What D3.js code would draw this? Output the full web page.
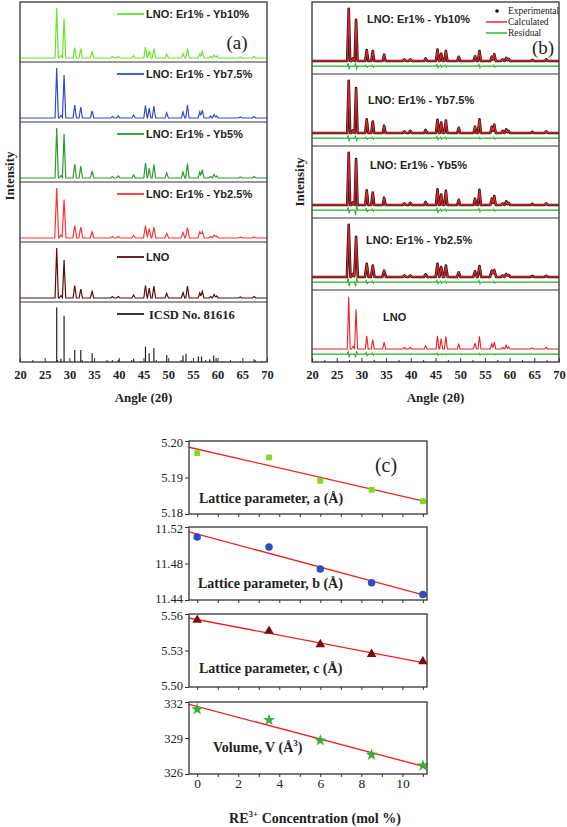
<!DOCTYPE html>
<html><head><meta charset="utf-8">
<script src="https://cdn.jsdelivr.net/npm/d3@7"></script>
<style>body{margin:0;background:#fff}svg{display:block}</style>
</head><body>
<script>
// ---------- DATA ----------
const angleTicks = [20, 25, 30, 35, 40, 45, 50, 55, 60, 65, 70];
const peakPos   = [27.43, 28.3, 28.92, 31.08, 32.3, 34.6, 38.7, 39.9, 43.0, 45.4, 46.15, 47.1, 49.7, 53.0, 53.9, 56.4, 56.9, 58.6, 59.3, 59.8, 64.6, 67.4];
const intYb10   = [100, 5, 79, 21, 19, 12, 3, 3, 5, 22, 14, 19, 8, 9, 19, 8, 13, 3, 6, 4, 2, 3];
const intYb75   = [100, 5, 86, 26, 22, 14, 3, 4, 6, 25, 20, 24, 10, 12, 26, 12, 16, 4, 7, 4, 2, 3];
const intYb5    = [100, 5, 88, 28, 24, 14, 3, 4, 6, 30, 20, 27, 10, 12, 29, 12, 17, 3, 7, 4, 2, 3];
const intYb25   = [100, 6, 77, 25, 22, 12, 3, 3, 5, 25, 19, 22, 9, 11, 21, 12, 13, 3, 6, 4, 2, 2];
const intLNO    = [100, 5, 76, 25, 18, 13, 3, 3, 6, 25, 20, 24, 9, 11, 24, 10, 13, 3, 7, 4, 2, 3];
const stickPos  = [27.43, 28.3, 28.92, 31.08, 32.3, 34.6, 37.8, 38.7, 39.9, 43.0, 44.5, 45.4, 46.15, 47.1, 49.7, 53.0, 53.6, 54.7, 56.1, 56.75, 58.4, 59.2, 59.7, 60.9, 64.6, 67.4, 69.0];
const stickInt  = [100, 6, 85, 22, 22, 16, 2, 3, 4, 6, 2, 28, 16, 25, 13, 12, 15, 2, 10, 10, 5, 12, 7, 2, 2, 5, 2];
const residPos  = [27.43, 28.92, 31.08, 32.3, 45.4, 46.15, 47.1, 53.9, 56.9];
const resYb10   = [6, 5, 2, 2, 3, 2, 2, 3, 2];
const resYb75   = [5, 4, 2, 2, 3, 2, 2, 2, 2];
const resYb5    = [5, -9, 3, 2, 4, 2, 2, 3, 2];
const resYb25   = [8, -8, 3, 2, 3, 2, 2, 3, 2];
const resLNO    = [5, -6, 3, 2, 2, 1, 1, 2, 1];
const sampleNames = ["LNO: Er1% - Yb10%", "LNO: Er1% - Yb7.5%", "LNO: Er1% - Yb5%", "LNO: Er1% - Yb2.5%", "LNO"];

const conc   = [0, 3.5, 6, 8.5, 11];
const latA   = [5.1967, 5.1955, 5.1891, 5.1866, 5.1835];
const latB   = [11.509, 11.498, 11.474, 11.459, 11.446];
const latC   = [5.555, 5.546, 5.535, 5.527, 5.521];
const volV   = [331.4, 330.5, 328.8, 327.6, 326.7];
const concTicks = [0, 2, 4, 6, 8, 10];
const ticksA = [5.18, 5.19, 5.20];
const ticksB = [11.44, 11.48, 11.52];
const ticksC = [5.50, 5.53, 5.56];
const ticksV = [326, 329, 332];

// ---------- SETUP ----------
const W = 567, H = 827;
const svg = d3.select("body").append("svg").attr("width", W).attr("height", H);
const SERIF = "'Liberation Serif','Times New Roman',serif";
const SANS = "'Liberation Sans',Arial,sans-serif";
const FRAME = "#333";
const defs = svg.append("defs");

function profile(pos, ints, hw) {
  const xs = new Set([20, 70]);
  pos.forEach(p => { xs.add(p - hw); xs.add(p); xs.add(p + hw); });
  return [...xs].filter(x => x >= 20 && x <= 70).sort((a, b) => a - b)
    .map(x => [x, d3.sum(pos, (p, i) => Math.max(0, ints[i] * (1 - Math.abs(x - p) / hw)))]);
}
function residual(pos, amps) {
  const pts = [[20, 0], [70, 0]];
  pos.forEach((p, i) => { pts.push([p - 0.3, 0], [p - 0.1, amps[i]], [p + 0.1, -amps[i]], [p + 0.3, 0]); });
  return pts.sort((a, b) => a[0] - b[0]);
}

function angleAxis(g, x, yBottom) {
  const minor = d3.range(22.5, 70, 5);
  g.append("g").attr("transform", `translate(0,${yBottom})`)
    .call(d3.axisBottom(x).tickValues(minor).tickSize(-2).tickFormat(""))
    .call(s => s.select(".domain").remove()).selectAll("line").attr("stroke", FRAME);
  const ax = g.append("g").attr("transform", `translate(0,${yBottom})`)
    .call(d3.axisBottom(x).tickValues(angleTicks).tickSize(-4).tickPadding(8).tickFormat(d3.format("d")));
  ax.select(".domain").remove();
  ax.selectAll("line").attr("stroke", FRAME);
  ax.selectAll("text").attr("font-family", SERIF).attr("font-weight", "bold").attr("font-size", 12.5).attr("fill", "#222");
}

// ---------- PANEL (a) ----------
const A = { x0: 20, x1: 267, y0: 2, rowH: 60 };
const xA = d3.scaleLinear().domain([20, 70]).range([A.x0, A.x1]);
const aRows = [
  { name: sampleNames[0], ints: intYb10, color: "#66e62a", hw: 0.34, ly: 12 },
  { name: sampleNames[1], ints: intYb75, color: "#2f4fc4", hw: 0.34, ly: 12 },
  { name: sampleNames[2], ints: intYb5,  color: "#2a9e2a", hw: 0.34, ly: 12 },
  { name: sampleNames[3], ints: intYb25, color: "#ff3333", hw: 0.4, ly: 12 },
  { name: sampleNames[4], ints: intLNO,  color: "#5c0b0b", hw: 0.34, ly: 15 }
];
const gA = svg.append("g");
defs.append("clipPath").attr("id", "clipA").append("rect")
  .attr("x", A.x0).attr("y", A.y0).attr("width", A.x1 - A.x0).attr("height", A.rowH * 6);
aRows.forEach((r, i) => {
  const top = A.y0 + A.rowH * i;
  const y = d3.scaleLinear().domain([-8, 112]).range([top + A.rowH, top]);
  gA.append("path").datum(profile(peakPos, r.ints, r.hw))
    .attr("clip-path", "url(#clipA)")
    .attr("d", d3.line().x(d => xA(d[0])).y(d => y(d[1])))
    .attr("fill", "none").attr("stroke", r.color).attr("stroke-width", 1.2);
  gA.append("line").attr("x1", 117).attr("x2", 144).attr("y1", top + r.ly).attr("y2", top + r.ly)
    .attr("stroke", r.color).attr("stroke-width", 1.8);
  gA.append("text").attr("x", 146).attr("y", top + r.ly).attr("dy", "0.36em")
    .attr("font-family", SANS).attr("font-weight", "bold").attr("font-size", 11).attr("fill", "#222").text(r.name);
});
// ICSD sticks
{
  const top = A.y0 + A.rowH * 5;
  const y = d3.scaleLinear().domain([0, 110]).range([top + A.rowH, top]);
  gA.append("g").selectAll("line").data(stickPos).join("line")
    .attr("x1", d => xA(d)).attr("x2", d => xA(d))
    .attr("y1", y(0)).attr("y2", (d, i) => y(stickInt[i]))
    .attr("stroke", "#222").attr("stroke-width", 1.2);
  gA.append("line").attr("x1", 117).attr("x2", 144).attr("y1", top + 12).attr("y2", top + 12)
    .attr("stroke", "#222").attr("stroke-width", 1.8);
  gA.append("text").attr("x", 149).attr("y", top + 12).attr("dy", "0.36em")
    .attr("font-family", SERIF).attr("font-weight", "bold").attr("font-size", 12.5).attr("fill", "#222").text("ICSD No. 81616");
}
for (let i = 1; i < 6; i++) {
  gA.append("line").attr("x1", A.x0).attr("x2", A.x1).attr("y1", A.y0 + A.rowH * i).attr("y2", A.y0 + A.rowH * i)
    .attr("stroke", FRAME).attr("stroke-width", 1.2);
}
gA.append("rect").attr("x", A.x0).attr("y", A.y0).attr("width", A.x1 - A.x0).attr("height", A.rowH * 6)
  .attr("fill", "none").attr("stroke", FRAME).attr("stroke-width", 1.3);
angleAxis(gA, xA, A.y0 + A.rowH * 6);
gA.append("text").attr("x", 237).attr("y", 42).attr("text-anchor", "middle").attr("dy", "0.35em")
  .attr("font-family", SERIF).attr("font-size", 19).attr("fill", "#222").text("(a)");
gA.append("text").attr("x", (A.x0 + A.x1) / 2).attr("y", 397).attr("text-anchor", "middle").attr("dy", "0.35em")
  .attr("font-family", SERIF).attr("font-weight", "bold").attr("font-size", 13).attr("fill", "#222").text("Angle (2θ)");
gA.append("text").attr("transform", "translate(9,176) rotate(-90)").attr("text-anchor", "middle").attr("dy", "0.35em")
  .attr("font-family", SERIF).attr("font-weight", "bold").attr("font-size", 13).attr("fill", "#222").text("Intensity");

// ---------- PANEL (b) ----------
const B = { x0: 312, x1: 559, y0: 2, rowH: 72 };
const xB = d3.scaleLinear().domain([20, 70]).range([B.x0, B.x1]);
const bRows = [
  { name: sampleNames[0], ints: intYb10, res: resYb10, exp: true, hw: 0.3, lx: 367, ly: 17 },
  { name: sampleNames[1], ints: intYb75, res: resYb75, exp: true, hw: 0.3, lx: 368, ly: 26 },
  { name: sampleNames[2], ints: intYb5,  res: resYb5,  exp: true, hw: 0.3, lx: 370, ly: 19 },
  { name: sampleNames[3], ints: intYb25, res: resYb25, exp: true, hw: 0.36, lx: 366, ly: 22 },
  { name: sampleNames[4], ints: intLNO,  res: resLNO,  exp: false, hw: 0.3, lx: 383, ly: 27 }
];
const gB = svg.append("g");
defs.append("clipPath").attr("id", "clipB").append("rect")
  .attr("x", B.x0).attr("y", B.y0).attr("width", B.x1 - B.x0).attr("height", B.rowH * 5);
bRows.forEach((r, i) => {
  const top = B.y0 + B.rowH * i;
  const y = d3.scaleLinear().domain([-25, 113]).range([top + B.rowH, top]);
  const line = d3.line().x(d => xB(d[0])).y(d => y(d[1]));
  const prof = profile(peakPos, r.ints, r.hw);
  gB.append("path").datum(residual(residPos, r.res).map(d => [d[0], d[1] - 10]))
    .attr("clip-path", "url(#clipB)").attr("d", line)
    .attr("fill", "none").attr("stroke", "#27b027").attr("stroke-width", 1.1);
  if (r.exp) {
    gB.append("path").datum(prof).attr("clip-path", "url(#clipB)").attr("d", line)
      .attr("fill", "none").attr("stroke", "#1a1a1a").attr("stroke-width", 2.6).attr("stroke-linejoin", "round");
  }
  gB.append("path").datum(prof).attr("clip-path", "url(#clipB)").attr("d", line)
    .attr("fill", "none").attr("stroke", "#ee2020").attr("stroke-width", r.exp ? 1.2 : 1.1);
  gB.append("text").attr("x", r.lx).attr("y", top + r.ly).attr("dy", "0.36em")
    .attr("font-family", SANS).attr("font-weight", "bold").attr("font-size", 11).attr("fill", "#222").text(r.name);
});
for (let i = 1; i < 5; i++) {
  gB.append("line").attr("x1", B.x0).attr("x2", B.x1).attr("y1", B.y0 + B.rowH * i).attr("y2", B.y0 + B.rowH * i)
    .attr("stroke", FRAME).attr("stroke-width", 1.2);
}
gB.append("rect").attr("x", B.x0).attr("y", B.y0).attr("width", B.x1 - B.x0).attr("height", B.rowH * 5)
  .attr("fill", "none").attr("stroke", FRAME).attr("stroke-width", 1.3);
angleAxis(gB, xB, B.y0 + B.rowH * 5);
// legend (b)
const legB = gB.append("g");
legB.append("circle").attr("cx", 497).attr("cy", 11).attr("r", 1.8).attr("fill", "#111");
legB.append("line").attr("x1", 486).attr("x2", 507).attr("y1", 22).attr("y2", 22).attr("stroke", "#ee2020").attr("stroke-width", 1.4);
legB.append("line").attr("x1", 486).attr("x2", 507).attr("y1", 33).attr("y2", 33).attr("stroke", "#27b027").attr("stroke-width", 1.4);
[["Experimental", 11], ["Calculated", 22], ["Residual", 33]].forEach(([t, yy]) => {
  legB.append("text").attr("x", 508).attr("y", yy).attr("dy", "0.35em")
    .attr("font-family", SERIF).attr("font-size", 9.5).attr("fill", "#222").text(t);
});
gB.append("text").attr("x", 543).attr("y", 47).attr("text-anchor", "middle").attr("dy", "0.35em")
  .attr("font-family", SERIF).attr("font-size", 19).attr("fill", "#222").text("(b)");
gB.append("text").attr("x", (B.x0 + B.x1) / 2).attr("y", 397).attr("text-anchor", "middle").attr("dy", "0.35em")
  .attr("font-family", SERIF).attr("font-weight", "bold").attr("font-size", 13).attr("fill", "#222").text("Angle (2θ)");
gB.append("text").attr("transform", "translate(299,182) rotate(-90)").attr("text-anchor", "middle").attr("dy", "0.35em")
  .attr("font-family", SERIF).attr("font-weight", "bold").attr("font-size", 13).attr("fill", "#222").text("Intensity");

// ---------- PANEL (c) ----------
const C = { x0: 189, x1: 427 };
const xC = d3.scaleLinear().domain([-0.4, 11.2]).range([C.x0, C.x1]);
const cRows = [
  { vals: latA, ticks: ticksA, fmt: ".2f", top: 441, bot: 514, sym: d3.symbolSquare, size: 34, color: "#7ddc1f", label: ["Lattice parameter, a (Å)"], lx: 199, ly: 503 },
  { vals: latB, ticks: ticksB, fmt: ".2f", top: 527, bot: 600, sym: d3.symbolCircle, size: 44, color: "#2a4fc0", label: ["Lattice parameter, b (Å)"], lx: 198, ly: 588 },
  { vals: latC, ticks: ticksC, fmt: ".2f", top: 614, bot: 687, sym: d3.symbolTriangle, size: 40, color: "#7a0b0b", label: ["Lattice parameter, c (Å)"], lx: 199, ly: 673 },
  { vals: volV, ticks: ticksV, fmt: "d", top: 702, bot: 774, sym: d3.symbolStar, size: 46, color: "#35b035", label: null, lx: 213, ly: 752 }
];
const gC = svg.append("g");
cRows.forEach((r, i) => {
  const ext = [r.ticks[0], r.ticks[r.ticks.length - 1]];
  const y = d3.scaleLinear().domain(ext).range([r.bot, r.top]);
  // regression line
  const mx = d3.mean(conc), my = d3.mean(r.vals);
  const slope = d3.sum(conc, (x, k) => (x - mx) * (r.vals[k] - my)) / d3.sum(conc, x => (x - mx) ** 2);
  const fit = xC.domain().map(x => [x, my + slope * (x - mx)]);
  const clipId = "clipC" + i;
  defs.append("clipPath").attr("id", clipId).append("rect")
    .attr("x", C.x0).attr("y", r.top).attr("width", C.x1 - C.x0).attr("height", r.bot - r.top);
  gC.append("path").datum(fit).attr("clip-path", `url(#${clipId})`)
    .attr("d", d3.line().x(d => xC(d[0])).y(d => y(d[1])))
    .attr("stroke", "#ee2222").attr("stroke-width", 1.3).attr("fill", "none");
  gC.append("g").selectAll("path").data(conc).join("path")
    .attr("transform", (d, k) => `translate(${xC(d)},${y(r.vals[k])})`)
    .attr("d", d3.symbol().type(r.sym).size(r.size)).attr("fill", r.color);
  gC.append("rect").attr("x", C.x0).attr("y", r.top).attr("width", C.x1 - C.x0).attr("height", r.bot - r.top)
    .attr("fill", "none").attr("stroke", FRAME).attr("stroke-width", 1.3);
  // y axis
  const ya = gC.append("g").attr("transform", `translate(${C.x0},0)`)
    .call(d3.axisLeft(y).tickValues(r.ticks).tickSize(4).tickPadding(2).tickFormat(d3.format(r.fmt)));
  ya.select(".domain").remove();
  ya.selectAll("line").attr("stroke", FRAME);
  ya.selectAll("text").attr("font-family", SERIF).attr("font-size", 12.5).attr("fill", "#222")
    .attr("dy", (d, k) => k === 0 ? "0.2em" : (k === r.ticks.length - 1 ? "0.45em" : "0.32em"));
  // x ticks
  const xa = gC.append("g").attr("transform", `translate(0,${r.bot})`)
    .call(d3.axisBottom(xC).tickValues(d3.range(0, 12, 1)).tickSize(3).tickPadding(1)
      .tickFormat(d => (i === 3 && d % 2 === 0) ? d : ""));
  xa.select(".domain").remove();
  xa.selectAll("line").attr("stroke", FRAME);
  xa.selectAll("text").attr("font-family", SERIF).attr("font-size", 13.5).attr("fill", "#222");
  // label
  const t = gC.append("text").attr("x", r.lx).attr("y", r.ly)
    .attr("font-family", SERIF).attr("font-weight", "bold").attr("font-size", 14).attr("fill", "#222");
  if (r.label) t.text(r.label[0]);
  else {
    t.append("tspan").text("Volume, V (Å");
    t.append("tspan").attr("font-size", 9).attr("dy", -6).text("3");
    t.append("tspan").attr("dy", 6).text(")");
  }
});
gC.append("text").attr("x", 386).attr("y", 465).attr("text-anchor", "middle").attr("dy", "0.35em")
  .attr("font-family", SERIF).attr("font-size", 20).attr("fill", "#222").text("(c)");
{
  const t = gC.append("text").attr("x", 315).attr("y", 823).attr("text-anchor", "middle")
    .attr("font-family", SERIF).attr("font-weight", "bold").attr("font-size", 14).attr("fill", "#222");
  t.append("tspan").text("RE");
  t.append("tspan").attr("font-size", 9).attr("dy", -6).text("3+");
  t.append("tspan").attr("dy", 6).text(" Concentration (mol %)");
}
</script>
</body></html>
